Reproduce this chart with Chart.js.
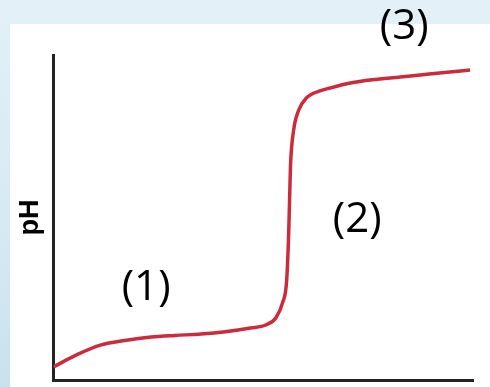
<!DOCTYPE html>
<html>
<head>
<meta charset="utf-8">
<script src="https://cdn.jsdelivr.net/npm/chart.js@4"></script>
<style>
  html, body { margin: 0; padding: 0; }
  body {
    width: 490px; height: 387px; overflow: hidden; position: relative;
    background: linear-gradient(to bottom, #e3f0f7 0%, #d6e9f3 60%, #c9e1ee 100%);
  }
  #panel {
    position: absolute; left: 10px; top: 24px; right: 0; bottom: 0;
    background: #fff;
  }
  #chart { position: absolute; left: 0; top: 0; }
</style>
</head>
<body>
<div id="panel"></div>
<canvas id="chart" width="490" height="387"></canvas>
<script>
// titration curve: volume added (arbitrary units) vs pH
const volume = [0, 5.5, 11.4, 17, 23.3, 29, 35.2, 41, 47.0, 50.6, 53.0, 54.6, 55.6, 56.1, 56.5, 57.2, 58.4, 60.3, 63.5, 66.0, 70.8, 76, 82.7, 88, 94.5, 99.3];
const phValues = [0.56, 1.08, 1.51, 1.7, 1.85, 1.92, 1.98, 2.08, 2.24, 2.37, 2.67, 3.32, 4.31, 6.46, 9.2, 10.7, 11.6, 12.15, 12.45, 12.58, 12.79, 12.93, 13.05, 13.15, 13.27, 13.35];

// region labels
const regionText = ['(1)', '(2)', '(3)'];
const regionX = [22.1, 72.4, 83.6];
const regionY = [3.96, 6.89, 15.2];

const points = volume.map((v, i) => ({ x: v, y: phValues[i] }));

const regionLabels = {
    id: 'regionLabels',
    afterDatasetsDraw(chart) {
        const ctx = chart.ctx;
        const xs = chart.scales.x;
        const ys = chart.scales.y;
        ctx.save();
        ctx.fillStyle = '#000';
        ctx.font = '42px "Open Sans"';
        ctx.textAlign = 'center';
        ctx.textBaseline = 'middle';
        regionText.forEach((t, i) => {
            ctx.fillText(t, xs.getPixelForValue(regionX[i]), ys.getPixelForValue(regionY[i]));
        });
        ctx.restore();
    }
};

const ctx = document.getElementById('chart').getContext('2d');
new Chart(ctx, {
    type: 'line',
    data: {
        datasets: [{
            data: points,
            borderColor: '#cc2a3d',
            borderWidth: 3.5,
            pointRadius: 0,
            fill: false,
            cubicInterpolationMode: 'monotone'
        }]
    },
    options: {
        responsive: false,
        animation: false,
        layout: {
            padding: { left: 14, right: 17, top: 55, bottom: 7 }
        },
        plugins: {
            legend: { display: false },
            tooltip: { enabled: false }
        },
        scales: {
            x: {
                type: 'linear',
                min: 0,
                max: 100,
                grid: { display: false, drawTicks: false },
                ticks: { display: false },
                border: { color: '#222', width: 3 }
            },
            y: {
                min: 0,
                max: 14,
                grid: { display: false, drawTicks: false },
                ticks: { display: false },
                border: { color: '#222', width: 3 },
                title: {
                    display: true,
                    text: 'pH',
                    color: '#000',
                    font: { family: 'Liberation Sans', size: 27, weight: 'bold' },
                    padding: { top: 0, bottom: 7 }
                }
            }
        }
    },
    plugins: [regionLabels]
});
</script>
</body>
</html>
